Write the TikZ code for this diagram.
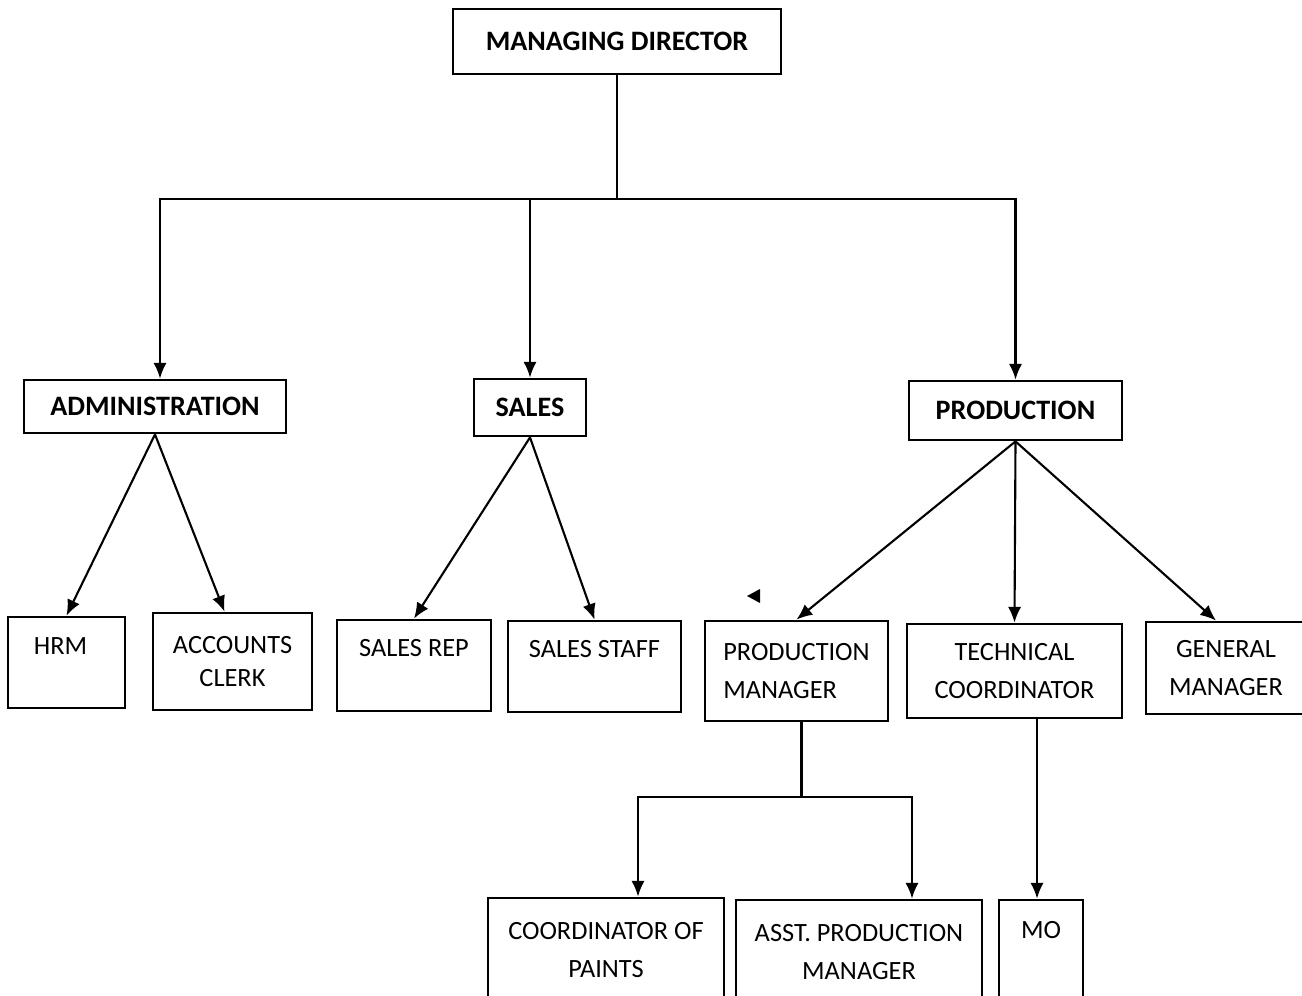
\documentclass[tikz,border=0pt]{standalone}
\usepackage{fontspec}
\setmainfont{Carlito}
\usetikzlibrary{arrows.meta}
\tikzset{box/.style = {draw, line width = 0.8pt, inner sep = 0, align = center, font = \fontsize{7.5}{10.8}\selectfont}}
\tikzset{head/.style = {box, font = \fontsize{8}{10}\selectfont\bfseries}}
\tikzset{raised/.style = {text height = 0.17cm, text depth = #1}}
\tikzset{conn/.style = {line width = 0.6pt}}

\begin{document}
\begin{tikzpicture}[>={Latex[length = 4.5pt, width = 3.8pt]}]
    \useasboundingbox (0, 0) rectangle (13.02, -9.96);

    \node [head, minimum width = 3.28cm, minimum height = 0.65cm] (md) at (6.17, -0.415) {MANAGING DIRECTOR};
    \node [head, minimum width = 2.62cm, minimum height = 0.53cm] (admin) at (1.55, -4.065) {ADMINISTRATION};
    \node [head, minimum width = 1.12cm, minimum height = 0.57cm] (sales) at (5.30, -4.075) {SALES};
    \node [head, minimum width = 2.13cm, minimum height = 0.59cm] (prod) at (10.155, -4.105) {PRODUCTION};

    \node [box, raised = 0.34cm, minimum width = 1.17cm, minimum height = 0.91cm] (hrm) at (0.665, -6.625) {HRM\hspace{0.12cm}};
    \node [box, font = \fontsize{7.5}{9.4}\selectfont, minimum width = 1.59cm, minimum height = 0.97cm] (acc) at (2.325, -6.615) {ACCOUNTS\\CLERK};
    \node [box, raised = 0.36cm, minimum width = 1.54cm, minimum height = 0.91cm] (srep) at (4.14, -6.655) {SALES REP};
    \node [box, raised = 0.36cm, minimum width = 1.73cm, minimum height = 0.91cm] (sstaff) at (5.945, -6.665) {SALES STAFF};
    \node [box, align = left, minimum width = 1.83cm, minimum height = 1.00cm] (pm) at (7.965, -6.71) {PRODUCTION\\MANAGER};
    \node [box, minimum width = 2.15cm, minimum height = 0.94cm] (tc) at (10.145, -6.71) {TECHNICAL\\COORDINATOR};
    \node [box, minimum width = 1.60cm, minimum height = 0.92cm] (gm) at (12.26, -6.68) {GENERAL\\MANAGER};

    \node [box, minimum width = 2.36cm, minimum height = 1.04cm] (cop) at (6.06, -9.50) {COORDINATOR OF\\PAINTS};
    \node [box, minimum width = 2.46cm, minimum height = 1.04cm] (apm) at (8.59, -9.52) {ASST. PRODUCTION\\MANAGER};
    \node [box, raised = 0.44cm, minimum width = 0.84cm, minimum height = 1.04cm] (mo) at (10.41, -9.52) {MO};

    \draw [conn] (md.south) -- (6.17, -1.99) coordinate (top);
    \draw [conn, ->] (top) -| ([xshift = 0.05cm]admin.north);
    \draw [conn, ->] (top) -| (sales.north);
    \draw [conn, ->] (top) -| (prod.north);

    \draw [conn, ->] (admin.south) -- (hrm.north);
    \draw [conn, ->] (admin.south) -- ([xshift = -0.08cm]acc.north);
    \draw [conn, ->] (sales.south) -- (srep.north);
    \draw [conn, ->] (sales.south) -- (sstaff.north);
    \draw [conn, ->] (prod.south) -- (pm.north);
    \draw [conn, ->] (prod.south) -- (tc.north);
    \draw [conn, ->] (prod.south) -- ([xshift = -0.1cm]gm.north);

    \draw [conn] ([xshift = 0.05cm]pm.south) -- ++(0, -0.75) coordinate (pmbus);
    \draw [conn, ->] (pmbus) -| ([xshift = 0.32cm]cop.north);
    \draw [conn, ->] (pmbus) -| ([xshift = 0.53cm]apm.north);
    \draw [conn, ->] ([xshift = -0.04cm]mo.north |- tc.south) -- ([xshift = -0.04cm]mo.north);

    \fill (7.47, -5.96) -- (7.6, -5.89) -- (7.6, -6.03) -- cycle;
\end{tikzpicture}
\end{document}
